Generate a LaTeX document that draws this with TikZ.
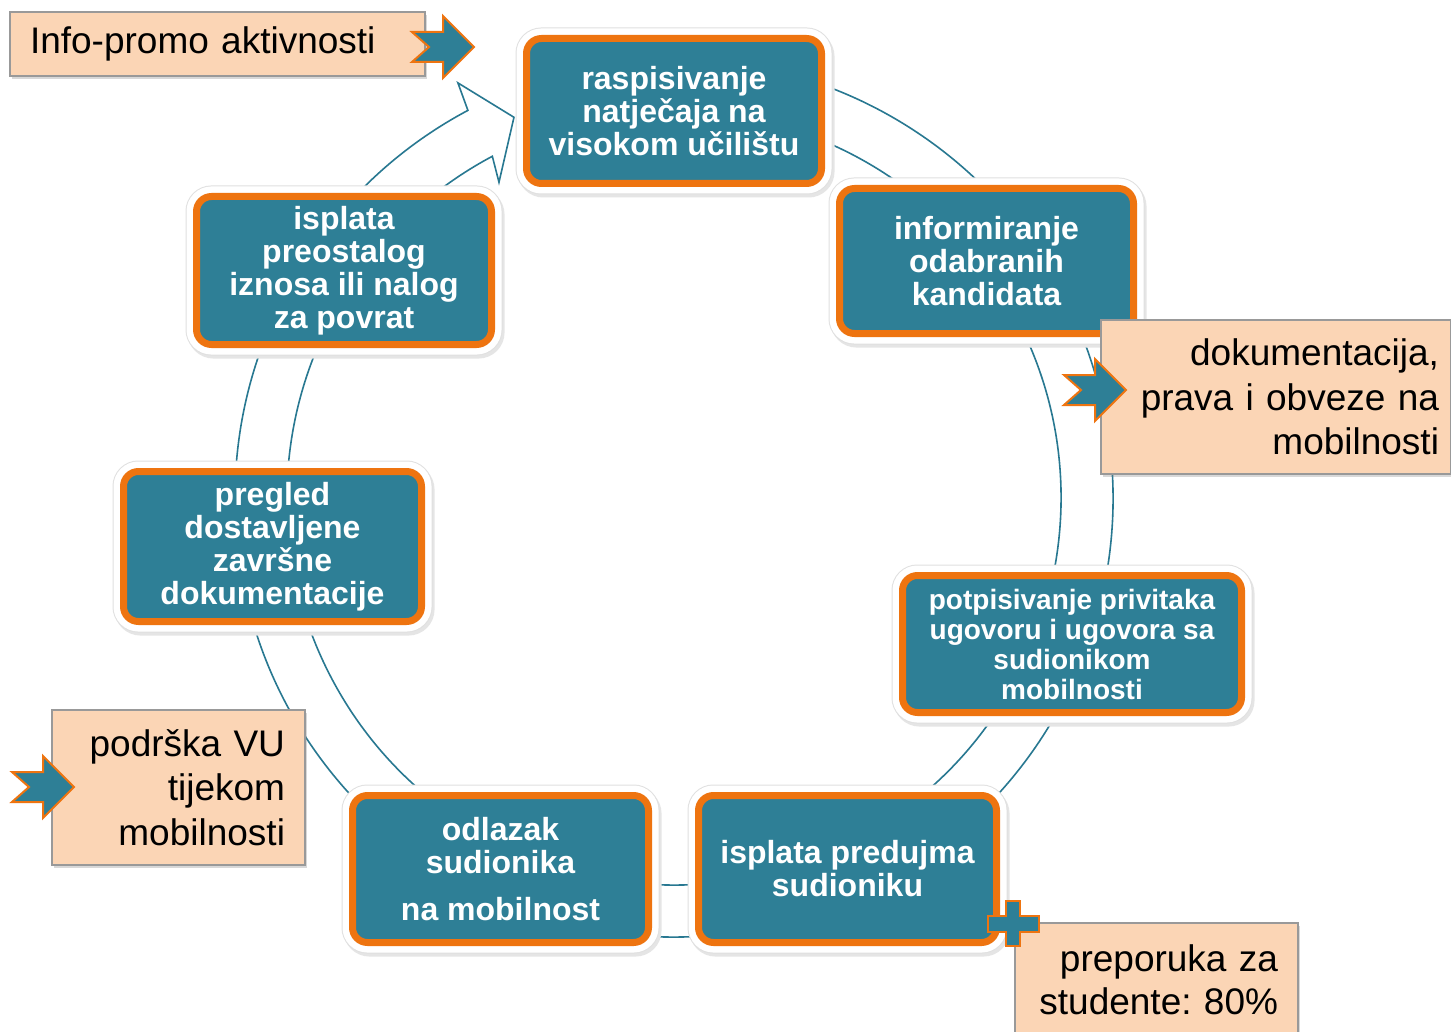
\documentclass[tikz,border=0pt]{standalone}
\usepackage{fontspec}
\setmainfont{Liberation Sans}
\usepackage{tikz}
\usetikzlibrary{shadows}
\frenchspacing

\definecolor{cycleteal}{RGB}{46,127,150}
\definecolor{cycleorange}{RGB}{238,116,16}
\definecolor{notepeach}{RGB}{251,213,181}
\definecolor{ringline}{RGB}{40,120,145}

\tikzset{
    stepbox/.style={rectangle, rounded corners=15pt, fill=cycleteal, draw=cycleorange,
        line width=7pt, text=white, align=center, inner sep=0pt,
        font=\bfseries\fontsize{32}{33}\selectfont,
        preaction={draw=black!10, line width=22pt, transform canvas={shift={(2pt,-3pt)}}},
        preaction={draw=black!12, line width=22pt},
        preaction={draw=white, line width=20pt}},
    notebox/.style={rectangle, fill=notepeach, draw=black!40, line width=1.5pt, inner sep=0pt,
        drop shadow={opacity=0.3, shadow xshift=2pt, shadow yshift=-3pt},
        font=\fontsize{37}{44.5}\selectfont},
    ring/.style={draw=ringline, line width=1.6pt},
    notchfill/.style={fill=cycleteal, draw=cycleorange, line width=2pt, line join=miter},
    notcharrow/.pic={
        \draw[notchfill] (-62,-15) -- (-45,0) -- (-62,15) -- (-31,15) -- (-31,31)
            -- (0,0) -- (-31,-31) -- (-31,-15) -- cycle;
    }
}

\begin{document}
\begin{tikzpicture}[x=1pt, y=-1pt]
    \path[fill=white, use as bounding box] (0,0) rectangle (1451,1032);

    % Cycle ring with arrowhead
    \begin{scope}[shift={(674,498)}]
        \draw[ring] (-100:439) arc[start angle=-100, end angle=242, radius=439]
            -- (242.5:468) -- (247.2:413) -- (241:361) -- (242:387)
            arc[start angle=242, end angle=-100, radius=387] -- cycle;
    \end{scope}

    % Steps
    \node[stepbox, minimum width=295pt, minimum height=145pt] (natjecaj) at (674,111)
        {raspisivanje\\natječaja na\\visokom učilištu};
    \node[stepbox, minimum width=294pt, minimum height=145pt] (informiranje) at (986.5,261)
        {informiranje\\odabranih\\kandidata};
    \node[stepbox, minimum width=339pt, minimum height=137pt,
        font=\bfseries\fontsize{28}{30}\selectfont] (ugovor) at (1072,644)
        {potpisivanje privitaka\\ugovoru i ugovora sa\\sudionikom\\mobilnosti};
    \node[stepbox, minimum width=298pt, minimum height=147pt] (predujam) at (847.5,869)
        {isplata predujma\\sudioniku};
    \node[stepbox, minimum width=296pt, minimum height=147pt] (odlazak) at (500.5,869)
        {odlazak\\sudionika\\[14pt]na mobilnost};
    \node[stepbox, minimum width=298pt, minimum height=150pt] (pregled) at (272.5,546.5)
        {pregled\\dostavljene\\završne\\dokumentacije};
    \node[stepbox, minimum width=295pt, minimum height=148pt] (povrat) at (344,270.5)
        {isplata\\preostalog\\iznosa ili nalog\\za povrat};

    % Notes
    \node[notebox, minimum width=415pt, minimum height=64pt, text width=375pt, align=left]
        (info) at (217.5,44) {Info-promo aktivnosti};
    \node[notebox, minimum width=350pt, minimum height=154pt, text width=326pt, align=right]
        (dokumentacija) at (1276,397) {dokumentacija,\\prava i obveze na\\mobilnosti};
    \node[notebox, minimum width=253pt, minimum height=155pt, text width=213pt, align=right]
        (podrska) at (178.5,787.5) {podrška VU\\tijekom\\mobilnosti};
    \node[notebox, minimum width=283pt, minimum height=113pt, text width=243pt, align=right,
        font=\fontsize{37}{43}\selectfont] (preporuka) at (1156.5,979.5)
        {\makebox[243pt][r]{preporuka za}\\\makebox[243pt][r]{studente: 80\%}};

    % Arrows and plus
    \pic at (474,47) {notcharrow};
    \pic at (1126,390) {notcharrow};
    \pic at (74,787) {notcharrow};
    \draw[notchfill] (988,916) -- (1006,916) -- (1006,901) -- (1020,901) -- (1020,916)
        -- (1039,916) -- (1039,932) -- (1020,932) -- (1020,946) -- (1006,946)
        -- (1006,932) -- (988,932) -- cycle;
\end{tikzpicture}
\end{document}
